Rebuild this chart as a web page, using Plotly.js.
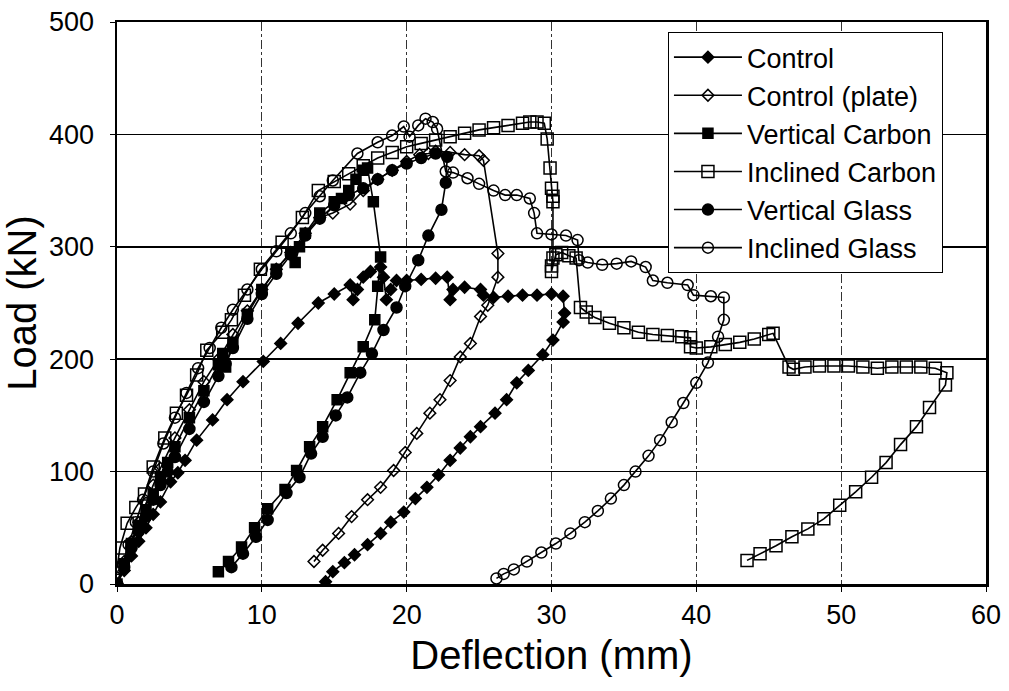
<!DOCTYPE html>
<html>
<head>
<meta charset="utf-8">
<script src="https://cdn.plot.ly/plotly-3.0.1.min.js"></script>
<style>html,body{margin:0;padding:0;background:#fff;}#chart{width:1009px;height:691px;}</style>
</head>
<body>
<div id="chart"></div>
<script>
// Control (filled diamonds)
const controlX = [0,0.5,1,1.5,2,2.5,3,3.7,4.2,4.7,5.5,6.6,7.6,8.7,10.1,11.3,12.5,13.9,15,16.1,16.3,16.6,17,17.5,18.2,18.4,18.6,18.9,19.3,20,21,22,22.8,23,23.2,24,25.1,25.3,26,27,28,29,30,30.8,30.9,30.8,30.1,29.4,28.4,27.6,26.9,26.1,25.1,24.4,23.7,23,22.2,21.4,20.6,19.8,18.9,18.2,17.3,16.4,15.7,14.9,14.4];
const controlY = [0,12,25,38,50,62,73,91,99,110,128,146,164,180,198,214,232,250,258,266,253,262,273,278,282,273,253,262,270,270,271,272,273,253,262,264,262,257,255,256,257,257,258,256,241,233,217,204,190,179,164,152,140,131,121,110,97,86,76,64,55,45,35,26,19,11,2];

// Control (plate) (open diamonds)
const plateX = [0,0.5,1,1.5,2,2.5,3,4,5,6,7,8,9,10,11,12,13,14,14.9,16.1,17,18,19,20,20.9,21.5,22,23,24,25,25.3,26.3,26.3,25.6,25.1,24.4,23.7,23,22.3,21.6,20.7,19.9,19.1,18.2,17.3,16.2,15.3,14.2,13.6];
const plateY = [0,20,38,55,72,88,103,130,155,180,200,222,243,262,280,295,312,326,330,338,350,360,368,376,382,383,385,384,382,381,377,294,273,248,238,214,202,181,164,152,134,117,101,86,75,60,45,30,20];

// Vertical Carbon (filled squares)
const vcX = [0,0.5,1,1.5,2,2.5,3,3.5,4,5,6,7,7.3,7.5,8,9,10,11,12,12.3,12.6,13,14,15,15.5,16,16.5,17,17.3,17.7,18.2,18,17.8,17,16.1,15.2,14.2,13.3,12.4,11.6,10.4,9.5,8.6,7.7,7];
const vcY = [0,18,36,52,66,80,95,108,122,148,172,195,205,193,215,240,262,280,295,286,300,312,330,340,343,350,360,368,370,340,291,265,235,211,188,164,140,122,101,84,67,50,33,20,11];

// Inclined Carbon (open squares)
const icX = [0,0.2,0.7,1.3,1.9,2.5,3.3,4.1,4.8,5.5,6.2,7.3,7.9,8.8,9.9,11.4,12.8,13.9,15,16,17,18,19,20,21,22,23,24,25,26,27,28,28.5,29,29.5,29.7,29.9,30,30.1,30.1,30.1,30,30,30.3,30.7,31.2,31.7,32,32.4,33,34,35,36,37,38,39,39.6,39.6,40,41,42,43,44,45,45.3,46.4,46.7,47.5,48.5,49.5,50.5,51.5,52.5,53.5,54.5,55.5,56.5,57.3,57.2,56.1,55.2,54.1,53.1,52.1,51,49.9,48.8,47.7,46.6,45.5,44.4,43.5];
const icY = [14,32,54,68,80,104,130,152,168,186,208,224,235,257,280,304,326,350,358,365,372,379,384,389,392,395,398,401,404,406,408,410,411,411,410,396,370,352,345,340,290,283,278,293,295,292,290,246,242,237,232,228,224,222,221,220,219,211,210,211,213,215,218,222,223,193,191,193,194,194,194,193,192,193,193,193,192,188,177,157,140,124,108,95,82,70,58,49,42,34,27,21];

// Vertical Glass (filled circles)
const vgX = [0,0.5,1,1.5,2,2.5,3,3.5,4,5,6,7,7.5,8,9,10,11,12,13,14,15,16,17,18,19,20,21,22,22.8,22.7,22.4,21.5,20.8,19.9,19.3,18.4,17.6,16.8,15.9,15.1,14.2,13.4,12.6,11.7,10.4,9.6,8.7,7.9];
const vgY = [0,15,32,47,60,75,88,100,113,138,162,185,196,210,236,258,276,293,310,325,337,346,352,360,368,374,379,383,380,357,333,310,288,265,246,226,205,188,166,150,131,116,95,81,57,42,27,15];

// Inclined Glass (open circles)
const igX = [0,0.3,0.8,1.3,1.8,2.5,3.2,4,4.8,5.6,6.4,7.2,8,9,10,11,12,13,14,14.9,16.6,18,19,19.8,20.2,20.8,21.3,21.8,22.1,22.7,23.2,24.2,25,26,26.8,27.6,28.5,28.8,29,30,31,31.8,31.9,32.5,33.5,34.5,35.5,36.5,37,38,39.4,39.8,41,41.9,41.9,41.5,40.8,40,39.1,38.3,37.5,36.7,35.8,35,34.1,33.2,32.3,31.3,30.3,29.3,28.3,27.4,26.7,26.2];
const igY = [0,14,35,55,75,100,125,148,170,192,210,228,244,262,280,296,312,330,345,359,383,393,399,407,398,408,414,411,405,367,366,361,356,350,346,346,343,330,312,311,310,306,288,286,284,285,287,282,270,268,266,257,256,255,235,220,197,179,161,144,128,114,100,88,76,65,55,45,36,28,20,13,9,5];

const seriesNames = ["Control","Control (plate)","Vertical Carbon","Inclined Carbon","Vertical Glass","Inclined Glass"];
const xTicks = [0,10,20,30,40,50,60];
const yTicks = [0,100,200,300,400,500];

const FONT = "Liberation Sans, Arial, sans-serif";
function tr(x, y, name, symbol, size) {
  return {
    x: x, y: y, name: name, type: "scatter", mode: "lines+markers",
    line: {color: "#000", width: 1.6},
    marker: {symbol: symbol, size: size, color: "#000",
             line: {color: "#000", width: 1.5}},
    cliponaxis: true
  };
}
const data = [
  tr(controlX, controlY, seriesNames[0], "diamond", 9),
  tr(plateX, plateY, seriesNames[1], "diamond-open", 9),
  tr(vcX, vcY, seriesNames[2], "square", 10),
  tr(icX, icY, seriesNames[3], "square-open", 12),
  tr(vgX, vgY, seriesNames[4], "circle", 11),
  tr(igX, igY, seriesNames[5], "circle-open", 11)
];
const layout = {
  width: 1009, height: 691,
  margin: {l: 117, r: 23, t: 22, b: 107},
  paper_bgcolor: "#fff", plot_bgcolor: "#fff",
  font: {family: FONT, color: "#000", size: 27},
  showlegend: true,
  legend: {x: 0.634, y: 0.982, xanchor: "left", yanchor: "top",
           bgcolor: "#fff", bordercolor: "#000", borderwidth: 1,
           font: {family: FONT, size: 27, color: "#000"}, itemwidth: 68,
           tracegroupgap: 0},
  xaxis: {
    range: [0, 60], tickvals: xTicks, ticktext: xTicks.map(String),
    showgrid: true, gridcolor: "#333", gridwidth: 1, griddash: "dashdot",
    showline: true, linecolor: "#000", linewidth: 2.5, mirror: true,
    ticks: "outside", ticklen: 5, tickcolor: "#000", zeroline: false,
    tickfont: {family: FONT, size: 27, color: "#000"}, ticklabelstandoff: 0,
    title: {text: "Deflection (mm)", font: {family: FONT, size: 40, color: "#000"}, standoff: 12}
  },
  yaxis: {
    range: [0, 500], tickvals: yTicks, ticktext: yTicks.map(String),
    showgrid: true, gridcolor: "#000", gridwidth: 1.6,
    showline: true, linecolor: "#000", linewidth: 2.5, mirror: true,
    ticks: "outside", ticklen: 5, tickcolor: "#000", zeroline: false,
    tickfont: {family: FONT, size: 27, color: "#000"}, ticklabelstandoff: 10,
    title: {text: "Load (kN)", font: {family: FONT, size: 40, color: "#000"}, standoff: 4}
  }
};
Plotly.newPlot("chart", data, layout, {displayModeBar: false, staticPlot: true});
</script>
</body>
</html>
